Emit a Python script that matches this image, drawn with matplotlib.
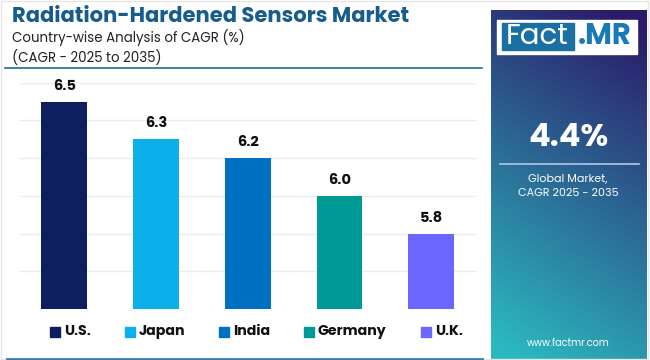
import matplotlib
matplotlib.use("Agg")
import matplotlib.pyplot as plt
import numpy as np
from matplotlib.patches import Rectangle
from matplotlib.lines import Line2D

countries = ["U.S.", "Japan", "India", "Germany", "U.K."]
cagr = [6.5, 6.3, 6.2, 6.0, 5.8]
colors = ["#0d1f5e", "#0bb0ea", "#0070c0", "#009a96", "#6b66ff"]
title = "Radiation-Hardened Sensors Market"
subtitle1 = "Country-wise Analysis of CAGR (%)"
subtitle2 = "(CAGR - 2025 to 2035)"
global_cagr = "4.4%"

W, H = 650, 360
fig = plt.figure(figsize=(6.5, 3.6), dpi=100)
fig.patch.set_facecolor("white")

def fx(x):
    return x / W

def fy(y):
    return 1 - y / H

FONT = ["Poppins", "Open Sans", "DejaVu Sans"]

# outer light border
fig.add_artist(Rectangle((fx(1), fy(359)), fx(647), 358 / H, transform=fig.transFigure,
                         fill=False, edgecolor="#e6e6e6", lw=1))

# Title texts
fig.text(fx(12), fy(17), title, fontsize=15.2, fontweight="bold", color="#175c8c",
         family=FONT, va="center", ha="left")
fig.text(fx(12), fy(38), subtitle1, fontsize=9.6, color="#222222",
         family=FONT, va="center", ha="left")
fig.text(fx(12), fy(58), subtitle2, fontsize=9.6, color="#222222",
         family=FONT, va="center", ha="left")
fig.add_artist(Line2D([fx(5), fx(482)], [fy(68), fy(68)], transform=fig.transFigure,
                      color="#1f6c9c", lw=1.2))
fig.add_artist(Line2D([fx(7), fx(482)], [fy(358.5), fy(358.5)], transform=fig.transFigure,
                      color="#3a7db0", lw=2))

# Bar chart axes
ax_l, ax_r, ax_t, ax_b = 20, 476, 82.7, 309
ax = fig.add_axes([fx(ax_l), fy(ax_b), (ax_r - ax_l) / W, (ax_b - ax_t) / H])
x = np.arange(len(countries))
bars = ax.bar(x, cagr, width=0.5, color=colors, zorder=3)
ax.set_xlim(-0.482, 4.488)
ax.set_ylim(5.4, 6.6)
ax.set_yticks(np.arange(5.4, 6.61, 0.2))
ax.yaxis.grid(True, color="#ececf0", lw=1, zorder=0)
ax.set_xticks([])
ax.tick_params(left=False, labelleft=False)
for s in ax.spines.values():
    s.set_visible(False)
for xi, v in zip(x, cagr):
    ax.annotate(f"{v:.1f}", (xi, v), xytext=(0, 15), textcoords="offset pixels",
                ha="center", va="center", fontsize=10.5, fontweight="bold",
                color="#111111", family=FONT, annotation_clip=False)

# Legend
leg_sq = [50, 125, 219, 304, 421]
for xs, c, name in zip(leg_sq, colors, countries):
    fig.add_artist(Rectangle((fx(xs), fy(336.5)), 9.5 / W, 9.5 / H, transform=fig.transFigure,
                             color=c))
    fig.text(fx(xs + 14), fy(332), name, fontsize=10.2, fontweight="bold", color="#111111",
             family=FONT, va="center", ha="left")

# Right panel with gradient
px0, px1, py0, py1 = 491, 647, 10, 360
pax = fig.add_axes([fx(px0), fy(py1), (px1 - px0) / W, (py1 - py0) / H])
n = 200
yy, xx = np.mgrid[0:1:n * 1j, 0:1:n * 1j]
t = np.clip(yy * 0.85 + (1 - xx) * 0.25 - 0.05, 0, 1)
top = np.array([0x2c, 0x1a, 0x6a]) / 255
bot = np.array([0x2b, 0xb8, 0xbf]) / 255
img = top[None, None, :] * (1 - t[..., None]) + bot[None, None, :] * t[..., None]
pax.imshow(img, extent=[0, 1, 1, 0], aspect="auto", interpolation="bilinear")
pax.set_xlim(0, 1)
pax.set_ylim(1, 0)
pax.axis("off")

# Logo
fig.add_artist(Rectangle((fx(497), fy(53.5)), (637 - 497) / W, 34 / H, transform=fig.transFigure,
                         color="white", zorder=5))
fig.add_artist(Rectangle((fx(501.5), fy(50)), (573.5 - 501.5) / W, 27 / H,
                         transform=fig.transFigure, color="#1a6fa3", zorder=6))
fig.text(fx(537.5), fy(36.5), "Fact", fontsize=21, color="white", family=FONT,
         ha="center", va="center", zorder=7)
fig.text(fx(605), fy(36.5), ".MR", fontsize=21, fontweight="bold", color="#1a7ab5",
         family=FONT, ha="center", va="center", zorder=7)

cx = 568
fig.text(fx(cx), fy(138), global_cagr, fontsize=23, fontweight="bold", color="white",
         family=FONT, ha="center", va="center")
fig.add_artist(Line2D([fx(500), fx(639)], [fy(164), fy(164)], transform=fig.transFigure,
                      color="#b8c4e8", lw=1.2))
fig.text(fx(cx), fy(180), "Global Market,", fontsize=8, color="white", family=FONT,
         ha="center", va="center")
fig.text(fx(cx), fy(194), "CAGR 2025 - 2035", fontsize=8, color="white", family=FONT,
         ha="center", va="center")
fig.text(fx(cx), fy(344), "www.factmr.com", fontsize=7, color="white", family=FONT,
         ha="center", va="center")

fig.savefig("out.png", dpi=100)
